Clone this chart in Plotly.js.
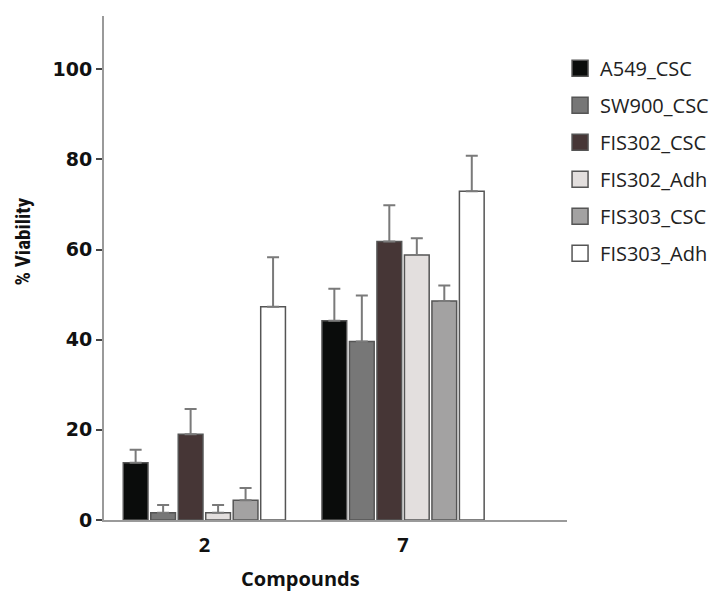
<!DOCTYPE html>
<html>
<head>
<meta charset="utf-8">
<script src="https://cdn.plot.ly/plotly-3.0.1.min.js"></script>
<style>html,body{margin:0;padding:0;background:#fff;}#chart{width:726px;height:594px;}</style>
</head>
<body>
<div id="chart"></div>
<script>
const categories = ["2", "7"];
const seriesNames = ["A549_CSC", "SW900_CSC", "FIS302_CSC", "FIS302_Adh", "FIS303_CSC", "FIS303_Adh"];
const seriesColors = ["#0a0c0b", "#777777", "#463636", "#e3dfde", "#a3a2a2", "#ffffff"];
const A549_CSC   = [12.7, 44.2];
const SW900_CSC  = [1.6, 39.6];
const FIS302_CSC = [19.0, 61.8];
const FIS302_Adh = [1.6, 58.8];
const FIS303_CSC = [4.4, 48.6];
const FIS303_Adh = [47.3, 72.9];
const A549_err   = [2.9, 7.1];
const SW900_err  = [1.7, 10.2];
const FIS302C_err = [5.6, 8.0];
const FIS302A_err = [1.7, 3.7];
const FIS303C_err = [2.7, 3.4];
const FIS303A_err = [11.0, 7.9];

const values = [A549_CSC, SW900_CSC, FIS302_CSC, FIS302_Adh, FIS303_CSC, FIS303_Adh];
const errors = [A549_err, SW900_err, FIS302C_err, FIS302A_err, FIS303C_err, FIS303A_err];

const traces = seriesNames.map((name, i) => ({
  type: 'bar',
  name: name,
  x: categories,
  y: values[i],
  showlegend: false,
  marker: {color: seriesColors[i], line: {color: '#555555', width: 1.5}},
  error_y: {type: 'data', array: errors[i], arrayminus: [0, 0], symmetric: false,
            color: '#7a7a7a', thickness: 2, width: 6}
}));
// legend entries (larger square swatches) for the same series
seriesNames.forEach((name, i) => traces.push({
  type: 'scatter', mode: 'markers', name: name, x: [null], y: [null],
  legendgroup: 'g' + i, showlegend: true, hoverinfo: 'skip',
  marker: {symbol: 'square', size: 22, color: seriesColors[i], line: {color: '#555555', width: 1.5}}
}));

const layout = {
  width: 726, height: 594,
  margin: {l: 104, r: 156, t: 16, b: 74},
  paper_bgcolor: '#ffffff', plot_bgcolor: '#ffffff',
  barmode: 'group', bargap: 0.17, bargroupgap: 0.1,
  showlegend: true,
  legend: {x: 0.985, xanchor: 'left', y: 0.935, yanchor: 'top',
           font: {family: 'Open Sans', size: 20, color: '#222'},
           tracegroupgap: 8, itemwidth: 30, bgcolor: 'rgba(0,0,0,0)'},
  xaxis: {type: 'category', range: [-0.505, 1.825], showline: true, linecolor: '#9a9a9a', linewidth: 2,
          ticks: '', showgrid: false, zeroline: false, ticklabelstandoff: 6,
          tickfont: {family: 'Open Sans', size: 20, color: '#111', weight: 'bold'}},
  yaxis: {range: [0, 111.8], showline: true, linecolor: '#9a9a9a', linewidth: 2,
          ticks: 'outside', ticklen: 6, tickcolor: '#444', tickwidth: 2,
          tickvals: [0, 20, 40, 60, 80, 100], showgrid: false, zeroline: false,
          tickfont: {family: 'DejaVu Sans', size: 19, color: '#111', weight: 'bold'}},
  annotations: [
    {text: '<b>Compounds</b>', xref: 'paper', yref: 'paper', x: (302-104)/466, y: -0.117,
     xanchor: 'center', yanchor: 'middle', showarrow: false,
     font: {family: 'Open Sans', size: 20, color: '#111'}},
    {text: '<b>% Viability</b>', xref: 'paper', yref: 'paper', x: (22-104)/466, y: (520-242)/504,
     xanchor: 'center', yanchor: 'middle', textangle: -90, showarrow: false,
     font: {family: 'Liberation Sans Narrow, Roboto Condensed, Roboto', size: 21, color: '#111'}}
  ]
};

Plotly.newPlot('chart', traces, layout, {displayModeBar: false, staticPlot: true});
</script>
</body>
</html>
